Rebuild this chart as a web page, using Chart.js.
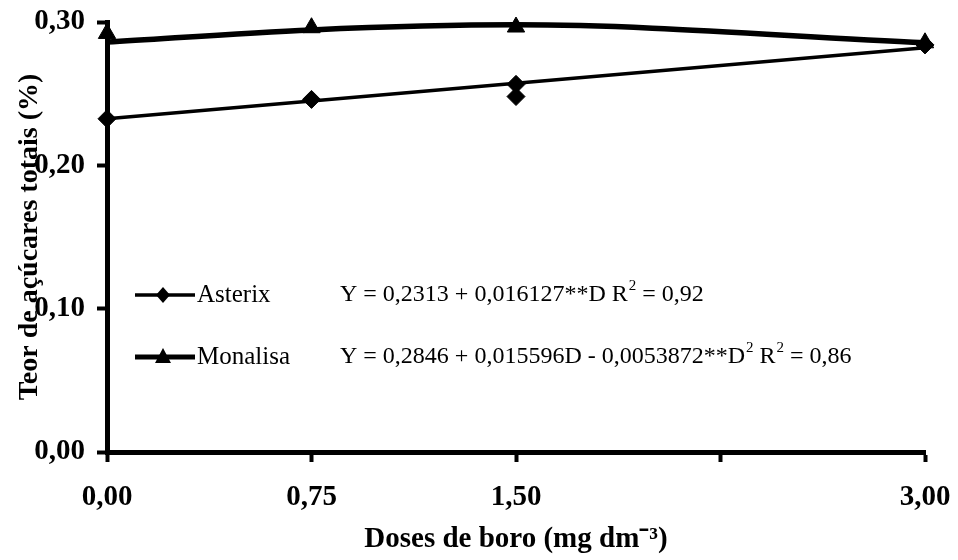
<!DOCTYPE html>
<html>
<head>
<meta charset="utf-8">
<script src="https://cdn.jsdelivr.net/npm/chart.js@4/dist/chart.umd.min.js"></script>
<style>
  body { margin: 0; background: #fff; }
  #wrap { width: 958px; height: 560px; }
</style>
</head>
<body>
<div id="wrap"><canvas id="SugarCanvas" width="958" height="560"></canvas></div>
<script>
// Doses de boro (mg dm-3)
const doses = [0, 0.75, 1.5, 3];

const asterixObsX = [0, 0.75, 1.5, 1.5, 3];
const asterixObsY = [0.2325, 0.246, 0.2565, 0.248, 0.284];
const asterixFitX = [0, 3];
const asterixFitY = [0.2325, 0.282];

const monalisaObsY = [0.292, 0.296, 0.2965, 0.2855];
const monalisaFitY = [0.286, 0.2945, 0.298, 0.2855];

const xTicksShown = [0, 0.75, 1.5, 3];
const seriesNames = ["Asterix", "Monalisa"];
const equations = [
    [["Y = 0,2313 + 0,016127**D R", false], ["2", true], [" = 0,92", false]],
    [["Y = 0,2846 + 0,015596D - 0,0053872**D", false], ["2", true], [" R", false], ["2", true], [" = 0,86", false]]
];

const SERIF = "'Liberation Serif', 'Times New Roman', serif";

function toPts(xs, ys){
    return ys.map((y, i) => ({ x: xs[i], y: y }));
}

function commaFmt(v){
    return Number(v).toFixed(2).replace('.', ',');
}

// draws the legend with the regression equations inside the plot
const legendPlugin = {
    id: 'eqLegend',
    afterDraw(chart){
        const ctx = chart.ctx;
        const rows = [
            { y: 295, lw: 3.5, style: 'diamond' },
            { y: 357, lw: 5, style: 'triangle' }
        ];
        ctx.save();
        ctx.fillStyle = '#000';
        ctx.strokeStyle = '#000';
        rows.forEach((r, i) => {
            ctx.lineWidth = r.lw;
            ctx.beginPath();
            ctx.moveTo(135, r.y);
            ctx.lineTo(195, r.y);
            ctx.stroke();
            ctx.beginPath();
            if (r.style === 'diamond') {
                ctx.moveTo(163, r.y - 8);
                ctx.lineTo(170, r.y);
                ctx.lineTo(163, r.y + 8);
                ctx.lineTo(156, r.y);
            } else {
                ctx.moveTo(163, r.y - 9);
                ctx.lineTo(171, r.y + 6);
                ctx.lineTo(155, r.y + 6);
            }
            ctx.closePath();
            ctx.fill();

            ctx.font = "25px " + SERIF;
            ctx.textBaseline = 'middle';
            ctx.fillText(seriesNames[i], 197, r.y);

            let x = 340;
            equations[i].forEach(part => {
                if (part[1]) {
                    ctx.font = "15px " + SERIF;
                    ctx.fillText(part[0], x + 1, r.y - 9);
                    x += ctx.measureText(part[0]).width + 1;
                } else {
                    ctx.font = "24px " + SERIF;
                    ctx.fillText(part[0], x, r.y);
                    x += ctx.measureText(part[0]).width;
                }
            });
        });
        ctx.restore();
    }
};

const ctx = document.getElementById("SugarCanvas").getContext("2d");

new Chart(ctx, {
    type: 'scatter',
    data: {
        datasets: [
            {
                label: "Asterix ajuste",
                data: toPts(asterixFitX, asterixFitY),
                showLine: true,
                borderColor: '#000',
                borderWidth: 3.5,
                pointRadius: 0,
                clip: false
            },
            {
                label: "Monalisa ajuste",
                data: toPts(doses, monalisaFitY),
                showLine: true,
                borderColor: '#000',
                borderWidth: 5.5,
                cubicInterpolationMode: 'monotone',
                pointRadius: 0,
                clip: false
            },
            {
                label: "Asterix",
                data: toPts(asterixObsX, asterixObsY),
                pointStyle: 'rectRot',
                pointRadius: 9,
                backgroundColor: '#000',
                borderColor: '#000',
                clip: false
            },
            {
                label: "Monalisa",
                data: toPts(doses, monalisaObsY),
                pointStyle: 'triangle',
                pointRadius: 10,
                backgroundColor: '#000',
                borderColor: '#000',
                clip: false
            }
        ]
    },
    options: {
        animation: false,
        responsive: false,
        layout: { padding: { top: 22, right: 33, left: 0, bottom: 0 } },
        plugins: {
            legend: { display: false },
            tooltip: { enabled: false }
        },
        scales: {
            x: {
                type: 'linear',
                min: 0,
                max: 3,
                afterFit: (scale) => {
                    scale.height = 108;
                    scale.paddingLeft = 0;
                    scale.paddingRight = 0;
                },
                border: { display: true, color: '#000', width: 5 },
                grid: { drawOnChartArea: false, drawTicks: true, tickLength: 10, tickWidth: 4, tickColor: '#000' },
                ticks: {
                    stepSize: 0.75,
                    padding: 18,
                    color: '#000',
                    font: { family: SERIF, size: 29, weight: 'bold' },
                    callback: (v) => xTicksShown.includes(v) ? commaFmt(v) : ''
                },
                title: {
                    display: true,
                    text: "Doses de boro (mg dm⁻³)",
                    color: '#000',
                    font: { family: SERIF, size: 29, weight: 'bold' },
                    padding: { top: 0, bottom: 3 }
                }
            },
            y: {
                min: 0,
                max: 0.3,
                afterFit: (scale) => {
                    scale.width = 107;
                    scale.paddingTop = 0;
                    scale.paddingBottom = 0;
                },
                border: { display: true, color: '#000', width: 5 },
                grid: { drawOnChartArea: false, drawTicks: true, tickLength: 10, tickWidth: 4, tickColor: '#000' },
                ticks: {
                    stepSize: 0.1,
                    padding: 12,
                    color: '#000',
                    font: { family: SERIF, size: 29, weight: 'bold' },
                    callback: (v) => commaFmt(v)
                },
                title: {
                    display: true,
                    text: "Teor de açúcares totais (%)",
                    color: '#000',
                    font: { family: SERIF, size: 28, weight: 'bold' },
                    padding: { top: 13, bottom: 0 }
                }
            }
        }
    },
    plugins: [legendPlugin]
});
</script>
</body>
</html>
